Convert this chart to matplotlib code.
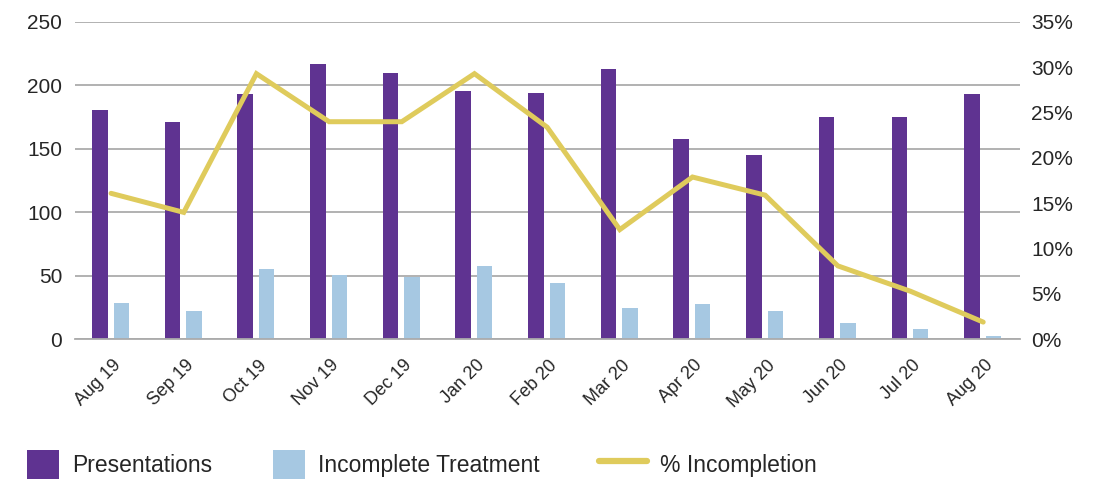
import matplotlib
matplotlib.use("Agg")
import matplotlib.pyplot as plt
import matplotlib.transforms as mtransforms
import numpy as np
from matplotlib.lines import Line2D
from matplotlib.patches import Patch

plt.rcParams['font.family'] = ['Liberation Sans', 'DejaVu Sans']

months = ["Aug 19", "Sep 19", "Oct 19", "Nov 19", "Dec 19", "Jan 20", "Feb 20",
          "Mar 20", "Apr 20", "May 20", "Jun 20", "Jul 20", "Aug 20"]
presentations = [181, 171, 193, 217, 210, 196, 194, 213, 158, 145, 175, 175, 193]
incomplete = [29, 22, 55, 51, 49, 58, 44, 25, 28, 22, 13, 8, 3]
pct_incompletion = [16.1, 14.0, 29.3, 24.0, 24.0, 29.3, 23.4, 12.1, 17.9, 15.9, 8.1, 5.3, 1.9]

purple = "#5F3391"
light_blue = "#A6C8E2"
gold = "#DFCB5C"
grid_col = "#ABABAB"
text_col = "#262626"

fig = plt.figure(figsize=(10.99, 4.80), dpi=100)
ax = fig.add_axes([0.068, 0.2931, 0.8597, 0.6611])
ax2 = ax.twinx()

x = np.arange(len(months))
w = 0.213
ax.bar(x - 0.155, presentations, width=w, color=purple, zorder=2)
ax.bar(x + 0.14, incomplete, width=w, color=light_blue, zorder=2)

ax.set_xlim(-0.5, len(months) - 0.5)
ax.set_ylim(0, 250)
ax.set_yticks(range(0, 251, 50))
ax.yaxis.grid(True, color=grid_col, linewidth=1.3)
ax.set_axisbelow(True)
for s in ax.spines.values():
    s.set_visible(False)
ax.spines['bottom'].set_visible(True)
ax.spines['bottom'].set_color(grid_col)
ax.spines['bottom'].set_linewidth(1.3)
ax.tick_params(axis='y', length=0, pad=9, labelsize=15, labelcolor=text_col)
ax.tick_params(axis='x', length=0, pad=9, labelsize=13, labelcolor=text_col)
ax.set_xticks(x)
ax.set_xticklabels(months, rotation=45, ha='right', rotation_mode='anchor')
shift = mtransforms.ScaledTranslation(0.015, -0.05, fig.dpi_scale_trans)
for lbl in ax.get_xticklabels():
    lbl.set_transform(lbl.get_transform() + shift)

ax2.plot(x, pct_incompletion, color=gold, linewidth=3.6, solid_capstyle='round',
         solid_joinstyle='miter', zorder=3)
ax2.set_ylim(0, 35)
ax2.set_yticks(range(0, 36, 5))
ax2.set_yticklabels([f"{v}%" for v in range(0, 36, 5)])
for s in ax2.spines.values():
    s.set_visible(False)
ax2.tick_params(axis='y', length=0, pad=8.5, labelsize=15, labelcolor=text_col)

# Legend: one entry per box so each key can have its own length
entries = [
    (Patch(facecolor=purple, edgecolor='none'), "Presentations", 27, 1.4),
    (Patch(facecolor=light_blue, edgecolor='none'), "Incomplete Treatment", 273, 1.4),
    (Line2D([0], [0], color=gold, linewidth=4.5, solid_capstyle='round'),
     "% Incompletion", 599, 2.1),
]
for handle, label, x_px, hlen in entries:
    fig.legend([handle], [label], loc='center left',
               bbox_to_anchor=(x_px / 1099, 1 - 464.5 / 480),
               frameon=False, fontsize=16.5, handlelength=hlen, handleheight=1.6,
               handletextpad=0.55, borderpad=0, borderaxespad=0,
               labelcolor=text_col)

fig.savefig("out.png", dpi=100)
